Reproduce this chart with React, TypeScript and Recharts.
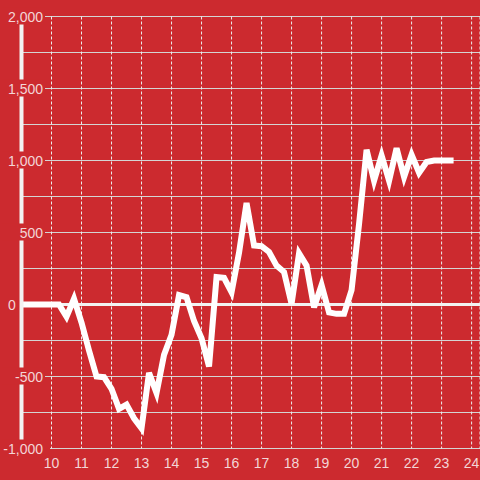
import { CartesianGrid, Line, LineChart, ReferenceLine, XAxis, YAxis } from "recharts";

// hour of day (quarter-hour samples) and net value
const hours = [
  9.0, 9.25, 9.5, 9.75, 10.0, 10.25, 10.5, 10.75, 11.0, 11.25, 11.5, 11.75,
  12.0, 12.25, 12.5, 12.75, 13.0, 13.25, 13.5, 13.75, 14.0, 14.25, 14.5, 14.75,
  15.0, 15.25, 15.5, 15.75, 16.0, 16.25, 16.5, 16.75, 17.0, 17.25, 17.5, 17.75,
  18.0, 18.25, 18.5, 18.75, 19.0, 19.25, 19.5, 19.75, 20.0, 20.25, 20.5, 20.75,
  21.0, 21.25, 21.5, 21.75, 22.0, 22.25, 22.5, 22.75, 23.0, 23.25, 23.4,
];

const values = [
  0, 0, 0, 0, 0, 0, -85, 40, -125, -320, -500, -505,
  -585, -725, -695, -790, -860, -475, -615, -350, -210, 65, 50, -115,
  -235, -430, 190, 185, 85, 360, 705, 410, 405, 365, 270, 225,
  5, 355, 270, -20, 135, -55, -65, -65, 100, 560, 1075, 860,
  1035, 860, 1085, 885, 1040, 915, 990, 1000, 1000, 1000, 1000,
];

const xTicks = [10, 11, 12, 13, 14, 15, 16, 17, 18, 19, 20, 21, 22, 23, 24];
const yTicks = [-1000, -750, -500, -250, 0, 250, 500, 750, 1000, 1250, 1500, 1750, 2000];

const data = hours.map((t, i) => ({ t, v: values[i] }));

const BG = "#cc2a2f";
const TEXT = "#f3d5d6";
const FONT = "'Liberation Sans', Arial, sans-serif";

function YTick(props: any) {
  const { y, payload } = props;
  const v = payload.value as number;
  if (v % 500 !== 0) return null;
  if (v === 0) {
    return (
      <text x={12} y={y + 5} textAnchor="middle" fill={TEXT} fontSize={14} fontFamily={FONT}>
        0
      </text>
    );
  }
  return (
    <g>
      <rect x={2} y={y - 9} width={v === -1000 ? 48 : 43} height={17} fill={BG} />
      <text x={43} y={y + 5} textAnchor="end" fill={TEXT} fontSize={14} fontFamily={FONT}>
        {v.toLocaleString("en-US")}
      </text>
    </g>
  );
}

function XTick(props: any) {
  const { x, payload } = props;
  return (
    <text x={x} y={468} textAnchor="middle" fill={TEXT} fontSize={14} fontFamily={FONT}>
      {payload.value}
    </text>
  );
}

export default function App() {
  return (
    <div style={{ position: "fixed", top: 0, left: 0, width: 480, height: 480, background: BG }}>
      <LineChart width={480} height={480} data={data} margin={{ top: 16.5, right: 0, bottom: 0, left: 0 }}>
        <CartesianGrid vertical={false} stroke="#d4d4d4" strokeWidth={1} />
        <CartesianGrid horizontal={false} stroke="#ececec" strokeDasharray="3 2" strokeWidth={1} />
        <XAxis
          type="number"
          dataKey="t"
          domain={[9, 24.28]}
          ticks={xTicks}
          allowDataOverflow
          axisLine={false}
          tickLine={false}
          height={31.5}
          tick={<XTick />}
        />
        <YAxis
          domain={[-1000, 2000]}
          ticks={yTicks}
          width={21.5}
          axisLine={{ stroke: "#f2f2f2", strokeWidth: 4 }}
          tickLine={false}
          tick={<YTick />}
        />
        <ReferenceLine y={0} stroke="#f2f2f2" strokeWidth={3} />
        <Line
          type="linear"
          dataKey="v"
          stroke="#ffffff"
          strokeWidth={6}
          dot={false}
          activeDot={false}
          isAnimationActive={false}
        />
      </LineChart>
    </div>
  );
}
